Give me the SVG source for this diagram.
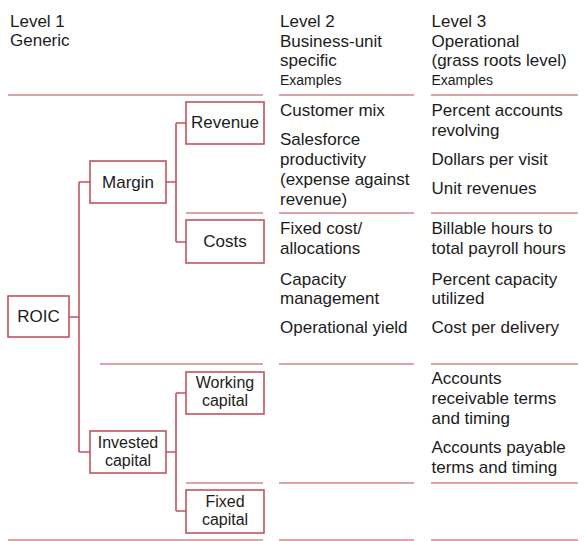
<svg xmlns="http://www.w3.org/2000/svg" width="584" height="541" viewBox="0 0 584 541">
<style>
text{font-family:"Liberation Sans",Arial,sans-serif;font-size:17px;fill:#1c1c1c}
.c{text-anchor:middle}
.t{font-size:16px}
.s{font-size:14px}
.box{fill:#fff;stroke:#c4535d;stroke-width:1.6}
.sep{stroke:#d4878d;stroke-width:1.4;fill:none}
.con{stroke:#c4535d;stroke-width:1.6;fill:none}
</style>
<rect width="584" height="541" fill="#fff"/>
<g id="headers">
<text x="10" y="27">Level 1</text>
<text x="10" y="46">Generic</text>
<text x="280" y="27">Level 2</text>
<text x="280" y="46.5">Business-unit</text>
<text x="280" y="66">specific</text>
<text class="s" x="280" y="85">Examples</text>
<text x="431.5" y="27">Level 3</text>
<text x="431.5" y="46.5">Operational</text>
<text x="431.5" y="66">(grass roots level)</text>
<text class="s" x="431.5" y="85">Examples</text>
</g>
<g id="separators" class="sep">
<path d="M8 95H263M279 95H414M431 95H578"/>
<path d="M186 213H263M279 213H414M431 213H578"/>
<path d="M100 364H263M279 364H414M431 364H578"/>
<path d="M186 483H263M279 483H414M431 483H578"/>
<path d="M8 540H263M279 540H414M431 540H578"/>
</g>
<g id="connectors" class="con">
<path d="M69 317H79M79 182V452M79 182H90M79 452H90"/>
<path d="M166 182H176M176 123V242M176 123H186M176 242H186"/>
<path d="M166 452H176M176 393V511M176 393H186M176 511H186"/>
</g>
<g id="roic"><rect class="box" x="8" y="296" width="61" height="41"/><text class="c" x="38.5" y="322">ROIC</text></g>
<g id="margin"><rect class="box" x="90" y="161" width="76" height="42"/><text class="c" x="128" y="188">Margin</text></g>
<g id="invested"><rect class="box" x="90" y="431" width="76" height="42"/><text class="c t" x="128" y="448">Invested</text><text class="c t" x="128" y="466">capital</text></g>
<g id="revenue"><rect class="box" x="186" y="102" width="78" height="42"/><text class="c" x="225" y="127.5">Revenue</text></g>
<g id="costs"><rect class="box" x="186" y="220" width="78" height="43"/><text class="c" x="225" y="247">Costs</text></g>
<g id="working"><rect class="box" x="186" y="372" width="78" height="42"/><text class="c t" x="225" y="388">Working</text><text class="c t" x="225" y="406">capital</text></g>
<g id="fixed"><rect class="box" x="186" y="490" width="78" height="43"/><text class="c t" x="225" y="507">Fixed</text><text class="c t" x="225" y="525">capital</text></g>
<g id="level2">
<text x="280" y="116">Customer mix</text>
<text x="280" y="145">Salesforce</text>
<text x="280" y="165">productivity</text>
<text x="280" y="185">(expense against</text>
<text x="280" y="205">revenue)</text>
<text x="280" y="234">Fixed cost/</text>
<text x="280" y="254">allocations</text>
<text x="280" y="285">Capacity</text>
<text x="280" y="304">management</text>
<text x="280" y="333">Operational yield</text>
</g>
<g id="level3">
<text x="431.5" y="116">Percent accounts</text>
<text x="431.5" y="136">revolving</text>
<text x="431.5" y="165">Dollars per visit</text>
<text x="431.5" y="194">Unit revenues</text>
<text x="431.5" y="234">Billable hours to</text>
<text x="431.5" y="254">total payroll hours</text>
<text x="431.5" y="285">Percent capacity</text>
<text x="431.5" y="304">utilized</text>
<text x="431.5" y="333">Cost per delivery</text>
<text x="431.5" y="384">Accounts</text>
<text x="431.5" y="404">receivable terms</text>
<text x="431.5" y="424">and timing</text>
<text x="431.5" y="453">Accounts payable</text>
<text x="431.5" y="473">terms and timing</text>
</g>
</svg>
